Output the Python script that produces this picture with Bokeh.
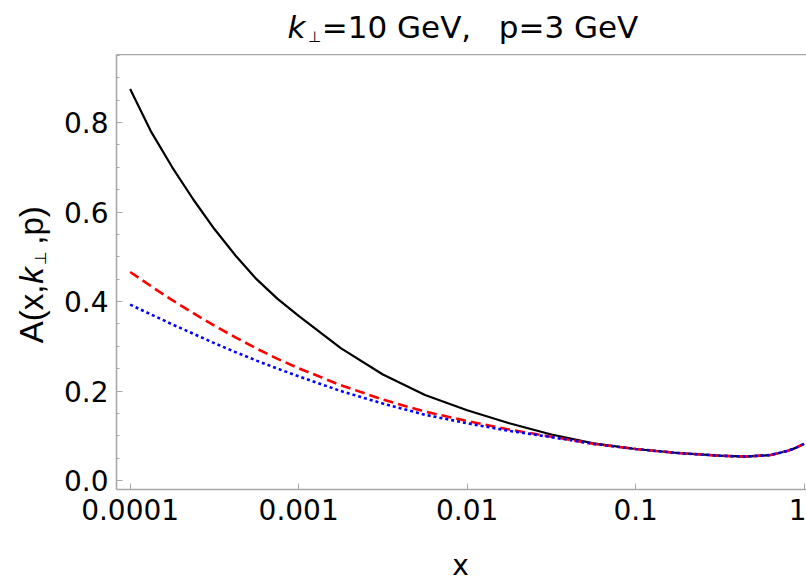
import math
from bokeh.plotting import figure
from bokeh.layouts import column, row
from bokeh.models import (Label, LogAxis, FixedTicker, SingleIntervalTicker,
                          PrintfTickFormatter, CustomJSTickFormatter, Range1d)
from bokeh.embed import file_html
from bokeh.resources import INLINE

# ---------------- data ----------------
x_vals = [0.0001, 0.0001334, 0.0001778, 0.0002371, 0.0003162, 0.0004217,
          0.0005623, 0.0007499, 0.001, 0.001778, 0.003162, 0.005623, 0.01,
          0.01778, 0.03162, 0.05623, 0.1, 0.1778, 0.3162, 0.4467, 0.631,
          0.7943, 0.8913, 1.0]

black_vals = [0.875, 0.779, 0.700, 0.628, 0.562, 0.503, 0.450, 0.406, 0.368,
              0.296, 0.237, 0.191, 0.157, 0.128, 0.103, 0.083, 0.0705, 0.0615,
              0.0555, 0.0535, 0.057, 0.066, 0.073, 0.082]

red_vals = [0.466, 0.434, 0.403, 0.374, 0.346, 0.320, 0.295, 0.272, 0.251,
            0.213, 0.181, 0.154, 0.133, 0.114, 0.098, 0.082, 0.0705, 0.0615,
            0.0555, 0.0535, 0.057, 0.066, 0.073, 0.082]

blue_vals = [0.393, 0.371, 0.349, 0.328, 0.307, 0.287, 0.268, 0.250, 0.233,
             0.200, 0.172, 0.147, 0.128, 0.111, 0.097, 0.082, 0.0705, 0.0615,
             0.0555, 0.0535, 0.057, 0.066, 0.073, 0.082]

x_ticks = [0.0001, 0.001, 0.01, 0.1, 1.0]
x_tick_labels = ["0.0001", "0.001", "0.01", "0.1", "1"]

title_parts = ["k", "\u22a5", "=10 GeV,", "p=3 GeV"]
ylabel_parts = ["A(x,", "k", "\u22a5", ",p)"]
xlabel = "x"

# ---------------- layout constants ----------------
W, H = 806, 581
TOP_H = 54          # title strip height
YLAB_W = 60         # y-label strip width
XLAB_H = 40         # x-label strip height
FRAME_LEFT = 114
FRAME_BOTTOM = 489
FRAME_GRAY = "#a8a8a8"


def strip(width, height):
    f = figure(width=width, height=height, x_range=Range1d(0, 1), y_range=Range1d(0, 1),
               output_backend="svg", toolbar_location=None, title=None,
               x_axis_location=None, y_axis_location=None,
               min_border=0, min_border_left=0, min_border_right=0,
               min_border_top=0, min_border_bottom=0)
    f.outline_line_color = None
    f.grid.visible = False
    f.background_fill_color = "white"
    f.border_fill_color = "white"
    return f


def lab(text, cx, cy, size, font="DejaVu Sans", style="normal", angle=0.0):
    # text centred on (cx, cy), frame-relative screen units
    return Label(x=cx, y=cy, x_units="screen", y_units="screen", text=text,
                 text_font=font, text_font_size=size, text_font_style=style,
                 angle=angle, text_baseline="middle", text_align="center",
                 text_color="black")


# ---------------- main plot ----------------
main_w = W - YLAB_W
main_h = H - TOP_H - XLAB_H
p = figure(width=main_w, height=main_h, x_axis_type="log",
           x_range=Range1d(10 ** -4.081, 10 ** 0.014),
           y_range=Range1d(-0.02, 0.952),
           output_backend="svg", toolbar_location=None, title=None,
           min_border_left=FRAME_LEFT - YLAB_W, min_border_right=0,
           min_border_top=0, min_border_bottom=main_h - (FRAME_BOTTOM - TOP_H))
p.outline_line_color = None
p.grid.visible = False
p.background_fill_color = "white"
p.border_fill_color = "white"

p.line(x_vals, black_vals, line_color="black", line_width=2.2)
p.line(x_vals, red_vals, line_color="#ff0000", line_width=2.6, line_dash="10 5")
p.line(x_vals, blue_vals, line_color="#0000ff", line_width=2.6, line_dash="3 3")

xa = p.xaxis[0]
ya = p.yaxis[0]
xa.ticker = FixedTicker(ticks=x_ticks)
xa.formatter = CustomJSTickFormatter(
    args=dict(vals=x_ticks, labs=x_tick_labels),
    code="""
    for (let i = 0; i < vals.length; i++) {
        if (Math.abs(Math.log10(vals[i]) - Math.log10(tick)) < 1e-6) return labs[i];
    }
    return "";
    """)
ya.ticker = SingleIntervalTicker(interval=0.2, num_minor_ticks=4)
ya.formatter = PrintfTickFormatter(format="%.1f")

for ax in (xa, ya):
    ax.axis_line_color = FRAME_GRAY
    ax.axis_line_width = 1.6
    ax.major_tick_line_color = FRAME_GRAY
    ax.minor_tick_line_color = FRAME_GRAY
    ax.major_tick_in = 6
    ax.major_tick_out = 0
    ax.minor_tick_in = 3
    ax.minor_tick_out = 0
    ax.major_label_text_font = "DejaVu Sans"
    ax.major_label_text_font_size = "28px"
    ax.major_label_text_color = "black"
    ax.major_label_standoff = 8
xa.minor_tick_line_color = None
xa.major_label_standoff = 9

top = LogAxis(ticker=FixedTicker(ticks=[]), axis_line_color=FRAME_GRAY,
              axis_line_width=1.6, major_tick_line_color=None,
              minor_tick_line_color=None, major_label_text_font_size="0px",
              major_label_standoff=0, major_tick_in=0, major_tick_out=0)
p.add_layout(top, "above")

# ---------------- title strip (frame bottom = canvas y 54) ----------------
t = strip(W, TOP_H)
t.add_layout(lab(title_parts[0], 296, TOP_H - 26.3, "31px", style="italic"))
t.add_layout(lab(title_parts[1], 314, TOP_H - 36.8, "15px"))
t.add_layout(lab(title_parts[2], 396, TOP_H - 26.3, "31px"))
t.add_layout(lab(title_parts[3], 568, TOP_H - 26.3, "31px"))

# ---------------- y-label strip ----------------
# (its frame is aligned with the main frame: bottom at canvas y 489)
yl = strip(YLAB_W, main_h)
ang = math.pi / 2
yb = FRAME_BOTTOM
yl.add_layout(lab(ylabel_parts[0], 30.5, yb - 313.5, "33px", font="Liberation Sans", angle=ang))
yl.add_layout(lab(ylabel_parts[1], 30.5, yb - 275, "33px", font="Liberation Sans",
                  style="italic", angle=ang))
yl.add_layout(lab(ylabel_parts[2], 39.5, yb - 257.5, "16px", angle=ang))
yl.add_layout(lab(ylabel_parts[3], 30.5, yb - 225, "33px", font="Liberation Sans", angle=ang))

# ---------------- x-label strip (frame bottom = canvas y 581) ----------------
xl = strip(W, XLAB_H)
xl.add_layout(lab(xlabel, 460, H - 564.5, "28px"))

layout = column(t, row(yl, p, spacing=0), xl, spacing=0)
open("out.html", "w").write(file_html(layout, INLINE))
